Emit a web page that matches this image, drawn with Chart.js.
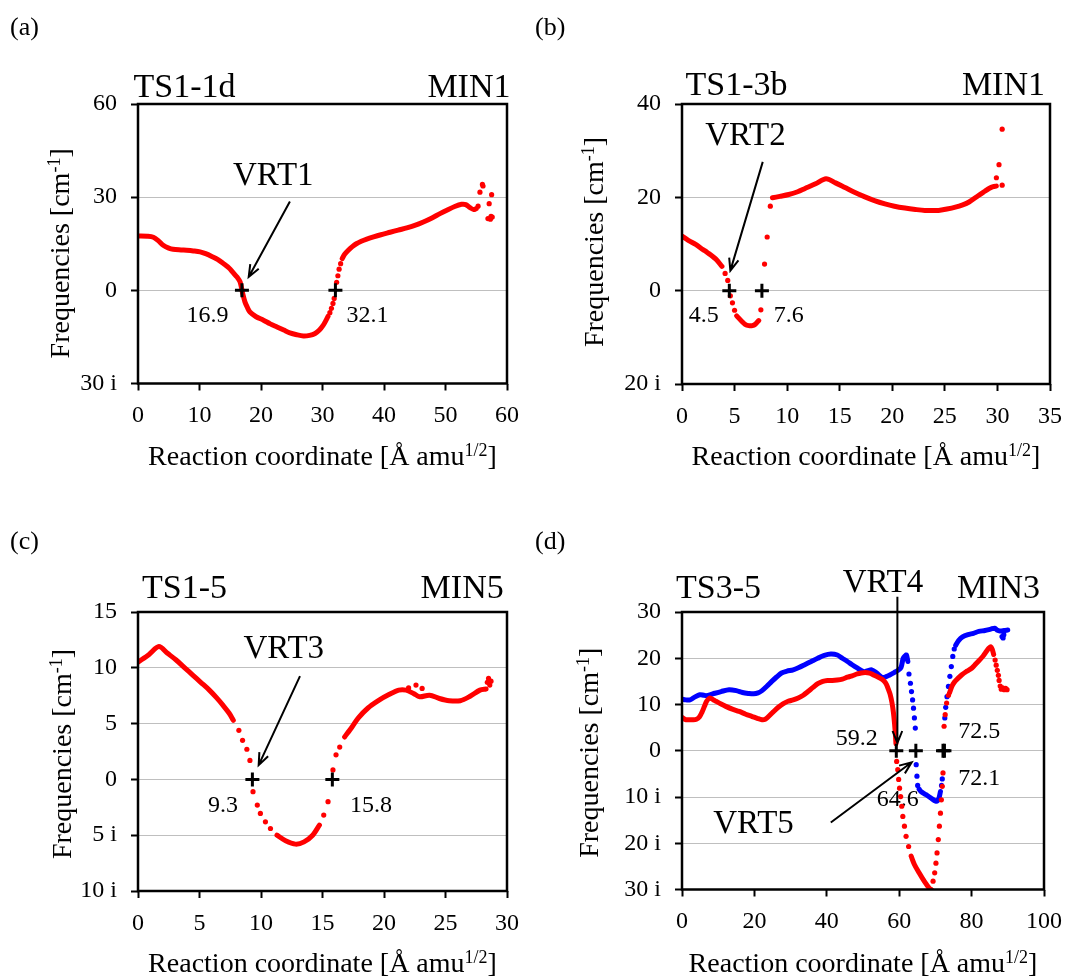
<!DOCTYPE html>
<html>
<head>
<meta charset="utf-8">
<script src="https://cdn.jsdelivr.net/npm/chart.js@4/dist/chart.umd.min.js"></script>
<style>
  html, body { margin: 0; padding: 0; background: #fff; }
  #page { position: relative; width: 1073px; height: 976px; overflow: hidden; }
  canvas { position: absolute; }
</style>
</head>
<body>
<div id="page">
  <canvas id="pa" width="536" height="488" style="left:0;top:0"></canvas>
  <canvas id="pb" width="543" height="488" style="left:530px;top:0"></canvas>
  <canvas id="pc" width="536" height="488" style="left:0;top:488px"></canvas>
  <canvas id="pd" width="543" height="488" style="left:530px;top:488px"></canvas>
</div>
<script>
'use strict';

var FONT = '"Liberation Serif", "Times New Roman", serif';
var RED = '#ff0000';
var BLUE = '#0000ff';

// ---- (a) TS1-1d -> MIN1 ----
var aZeroX = [16.9, 32.1];
var aLineX = [0, 1.5, 2.5, 3.3, 4.1, 5.0, 5.7, 7.0, 7.9, 9.0, 10.1, 11.0, 12.0, 13.0, 13.9, 14.8, 15.5, 16.1, 16.6, 17.0, 17.4, 17.8, 18.2, 19.2, 20.4, 21.5, 22.6, 23.7, 24.7, 25.8, 26.9, 27.9, 28.8, 29.5, 30.1, 30.5, 30.9,
  null,
  33.2, 33.6, 34.2, 34.8, 35.5, 36.3, 37.2, 38.3, 39.5, 41.0, 42.3, 43.7, 45.0, 46.4, 47.8, 49.1, 50.3, 51.5, 52.6, 53.3, 54.0, 54.6, 55.0];
var aLineY = [17.5, 17.4, 17.1, 16.0, 14.5, 13.6, 13.2, 13.0, 12.9, 12.7, 12.4, 11.8, 10.9, 9.9, 8.6, 7.2, 5.6, 4.3, 2.7, -0.8, -3.8, -5.6, -7.0, -8.5, -9.6, -10.8, -11.8, -12.8, -13.7, -14.3, -14.7, -14.5, -13.9, -12.8, -11.3, -9.9, -8.4,
  null,
  10.2, 11.6, 12.9, 14.0, 15.0, 15.8, 16.5, 17.2, 17.9, 18.7, 19.4, 20.1, 20.9, 22.0, 23.3, 24.7, 25.9, 27.0, 27.7, 27.6, 26.6, 26.0, 26.3];
var aDotX = [31.2, 31.45, 31.7, 31.9, 32.3, 32.5, 32.7, 32.95, 55.3, 55.6, 56.0, 56.1, 57.5, 57.1, 56.9, 57.3, 57.6, 57.4];
var aDotY = [-7.2, -5.8, -4.2, -2.6, 2.6, 4.7, 6.8, 8.6, 27.1, 31.6, 34.1, 33.6, 30.8, 27.9, 23.1, 22.9, 23.6, 23.8];

// ---- (b) TS1-3b -> MIN1 ----
var bZeroX = [4.5, 7.6];
var bLineX = [0, 0.6, 1.3, 2.0, 2.4, 3.2, 3.8,
  null,
  5.2, 5.7, 6.0, 6.35, 6.7, 6.97, 7.3,
  null,
  8.6, 9.3, 10.15, 11.0, 11.7, 12.7, 13.7, 14.6, 15.5, 16.4, 17.4, 18.3, 19.3, 20.2, 21.2, 22.2, 23.1, 24.4, 25.2, 26.0, 26.7, 27.3, 28.2, 28.8, 29.2, 29.6, 29.9];
var bLineY = [11.7, 10.8, 9.9, 8.8, 8.2, 6.8, 5.2,
  null,
  -5.4, -6.6, -7.2, -7.5, -7.5, -7.2, -6.4,
  null,
  19.9, 20.2, 20.6, 21.2, 21.9, 22.9, 24.0, 23.1, 22.1, 21.1, 20.1, 19.3, 18.6, 18.1, 17.7, 17.4, 17.2, 17.2, 17.5, 17.9, 18.4, 19.0, 20.4, 21.3, 21.9, 22.3, 22.4];
var bDotX = [4.1, 4.35, 4.6, 4.8, 5.0, 7.5, 7.85, 8.1, 8.4, 29.9, 30.15, 30.45, 30.45];
var bDotY = [3.7, 2.2, -1.1, -2.6, -4.2, -4.1, 5.7, 11.5, 18.1, 24.2, 27.0, 34.6, 22.6];

// ---- (c) TS1-5 -> MIN5 ----
var cZeroX = [9.3, 15.8];
var cLineX = [0, 0.9, 1.7, 2.4, 3.1, 3.8, 4.45, 5.1, 5.8, 6.4, 6.9, 7.4, 7.75,
  null,
  11.3, 12.0, 12.8, 13.5, 14.2, 14.75,
  null,
  16.8, 17.4, 17.9, 18.7, 19.6, 20.4, 21.2, 21.8, 22.4, 22.9, 23.7, 24.5, 25.3, 26.2, 27.0, 27.8, 28.3];
var cLineY = [10.5, 11.2, 11.9, 11.3, 10.7, 10.0, 9.35, 8.7, 8.0, 7.3, 6.65, 5.95, 5.3,
  null,
  -5.0, -5.5, -5.8, -5.6, -5.0, -4.1,
  null,
  3.8, 4.7, 5.5, 6.4, 7.1, 7.6, 8.0, 8.0, 7.7, 7.4, 7.55, 7.25, 7.05, 7.05, 7.45, 8.0, 8.1];
var cDotX = [8.2, 8.5, 8.85, 9.1, 9.35, 9.7, 9.95, 10.36, 10.77, 15.1, 15.45, 15.85, 16.1, 16.4, 22.0, 22.6, 23.1, 28.4, 28.5, 28.6, 28.7];
var cDotY = [4.4, 3.5, 2.7, 1.7, -1.1, -2.3, -3.05, -3.8, -4.4, -3.2, -2.0, 0.85, 2.2, 2.9, 8.2, 8.45, 8.15, 8.7, 9.05, 8.45, 8.8];

// ---- (d) TS3-5 -> MIN3 ----
var dZeroX = [59.2, 64.6, 72.1, 72.5];
var dRedLineX = [0, 0.8, 1.7, 2.9, 4.0, 4.8, 5.5, 6.2, 6.8, 7.6, 8.5, 9.4, 10.8, 12.1, 13.9, 15.8, 17.6, 19.4, 20.8, 22.1, 23.0, 23.9, 25.2, 26.6, 28.0, 29.3, 30.7, 32.1, 33.5, 34.8, 36.2, 37.5, 38.9, 40.2, 41.5, 42.9, 44.3, 45.7, 47.0, 48.4, 49.5, 50.6, 51.8, 52.9, 54.0, 55.2, 55.9, 56.5, 57.0, 57.5, 58.0, 58.4, 58.7, 58.95, 59.1,
  null,
  63.3, 64.2, 65.5, 66.9, 68.3, 68.9,
  null,
  73.9, 74.6, 75.3, 76.3, 77.4, 78.7, 80.1, 81.2, 82.3, 83.3, 84.1, 84.8, 85.3, 85.7, 86.1];
var dRedLineY = [7.2, 6.8, 6.7, 6.7, 6.8, 7.3, 8.3, 9.6, 10.7, 11.4, 11.1, 10.7, 10.1, 9.6, 9.0, 8.5, 7.9, 7.4, 7.0, 6.7, 6.8, 7.4, 8.4, 9.4, 10.2, 10.7, 11.0, 11.4, 12.0, 12.8, 13.7, 14.5, 15.0, 15.2, 15.2, 15.3, 15.5, 15.9, 16.2, 16.6, 16.8, 16.9, 16.8, 16.4, 16.0, 15.5, 15.0, 14.3, 13.3, 12.2, 10.4, 8.3, 6.0, 3.5, 1.5,
  null,
  -22.8, -24.6, -26.4, -28.2, -29.7, -30.0,
  null,
  12.5, 14.0, 14.9, 15.7, 16.5, 17.2, 17.9, 18.8, 19.7, 20.6, 21.5, 22.2, 22.5, 21.9, 20.8];
var dRedDotX = [59.3, 59.6, 59.85, 60.1, 60.4, 60.7, 61.0, 61.45, 61.9, 62.6, 69.35, 69.8, 70.15, 70.45, 70.8, 71.1, 71.4, 71.65, 71.9, 72.1, 72.4, 72.7, 73.1, 73.6, 86.5, 86.8, 87.1, 87.4, 87.6, 87.9, 88.2, 88.6, 89.0, 89.4, 89.8];
var dRedDotY = [-2.3, -4.1, -6.2, -8.1, -9.9, -12.0, -14.2, -16.3, -18.5, -20.7, -28.2, -26.4, -24.3, -22.1, -19.2, -16.3, -13.5, -10.6, -7.7, -4.8, 5.3, 7.8, 10.3, 12.0, 19.6, 18.5, 17.4, 16.3, 15.2, 14.0, 13.3, 13.6, 13.2, 13.5, 13.2];
var dBlueLineX = [0, 1.0, 2.2, 3.5, 4.9, 6.0, 6.7, 8.5, 10.8, 13.0, 15.0, 16.7, 18.3, 19.8, 21.0, 22.1, 23.5, 24.8, 26.2, 27.5, 29.0, 30.7, 32.3, 33.9, 35.7, 37.5, 39.3, 41.1, 42.9, 44.3, 45.7, 47.0, 48.4, 50.2, 51.3, 52.4, 53.8, 55.2, 56.3, 57.4, 58.6, 59.7, 60.5, 61.1, 61.6, 62.0, 62.4,
  null,
  65.5, 66.0, 67.4, 68.7, 70.1, 70.6, 71.0, 71.4,
  null,
  75.6, 76.4, 77.5, 79.0, 80.5, 82.0, 83.7, 85.3, 86.4, 87.0, 87.8, 89.0, 90.0];
var dBlueLineY = [11.2, 11.0, 11.0, 11.6, 12.1, 12.0, 11.9, 12.3, 12.8, 13.2, 13.0, 12.6, 12.4, 12.3, 12.5, 13.0, 14.0, 15.0, 16.0, 16.8, 17.2, 17.5, 18.0, 18.6, 19.3, 20.0, 20.6, 20.9, 20.7, 20.0, 19.3, 18.6, 17.9, 17.1, 17.3, 17.5, 16.8, 15.9, 16.0, 16.4, 16.9, 17.4, 18.0, 20.0, 20.5, 20.7, 19.3,
  null,
  -8.3, -8.8, -9.5, -10.2, -10.9, -10.8, -10.2, -8.8,
  null,
  22.8, 23.8, 24.6, 25.1, 25.4, 25.8, 26.0, 26.3, 26.5, 26.1, 25.9, 26.0, 26.1];
var dBlueDotX = [62.7, 63.1, 63.4, 63.7, 63.95, 64.2, 64.45, 64.7, 64.9, 65.1, 71.7, 71.9, 72.6, 72.85, 73.2, 73.6, 74.0, 74.4, 74.8, 75.2, 88.4, 88.9, 88.7];
var dBlueDotY = [16.6, 14.6, 12.8, 11.0, 9.2, 7.1, 4.9, -3.0, -5.5, -7.5, -7.5, -6.1, 7.1, 9.4, 11.7, 13.9, 16.1, 18.2, 20.4, 22.0, 24.7, 25.1, 24.4];

// text, arrows and frame, placed in data coordinates or relative to the plot area
var notes = {
  pa: { label: '(a)', lx: 10, ly: 35, left: 'TS1-1d', ldx: -4.4, ldy: -7.3, right: 'MIN1', rdx: 3.5,
        ytx: -68.6, yty: 9.6, xty: 81.5,
        texts: [['VRT1', 15.45, 33.8, 33], ['16.9', 7.9, -10.2, 24], ['32.1', 33.9, -10.2, 24]],
        arrows: [[24.7, 28.6, 18.0, 4.3]] },
  pb: { label: '(b)', lx: 5, ly: 35, left: 'TS1-3b', ldx: 3.5, ldy: -9.5, right: 'MIN1', rdx: -5,
        ytx: -79.5, yty: -2, xty: 81,
        texts: [['VRT2', 2.2, 31.2, 33], ['4.5', 0.64, -6.8, 24], ['7.6', 8.72, -6.8, 24]],
        arrows: [[7.68, 27.6, 4.6, 4.3]] },
  pc: { label: '(c)', lx: 10, ly: 61, left: 'TS1-5', ldx: 4, ldy: -13.7, right: 'MIN5', rdx: -3.3,
        ytx: -67, yty: 2.5, xty: 80.7,
        texts: [['VRT3', 8.58, 10.84, 33], ['9.3', 5.69, -2.9, 24], ['15.8', 17.24, -2.9, 24]],
        arrows: [[13.17, 9.26, 9.81, 1.28]] },
  pd: { label: '(d)', lx: 5, ly: 61, left: 'TS3-5', ldx: -6, ldy: -14, right: 'MIN3', rdx: -4,
        ytx: -84, yty: 2, xty: 82,
        texts: [['VRT4', 44.4, 34.4, 33], ['59.2', 42.5, 1.3, 24], ['64.6', 53.8, -12.0, 24],
                ['72.5', 76.3, 2.74, 24], ['72.1', 76.3, -7.3, 24], ['VRT5', 8.64, -17.8, 33]],
        arrows: [[59.5, 33.3, 59.5, 1.66], [41.1, -15.5, 63.45, -2.5]] }
};

function pts(xs, ys) {
  return xs.map(function (x, i) { return { x: x, y: ys[i] }; });
}

function richText(ctx, parts, x, y) {
  var w = 0;
  parts.forEach(function (p) { ctx.font = p[1] + 'px ' + FONT; w += ctx.measureText(p[0]).width; });
  var cx = x - w / 2;
  ctx.textAlign = 'left';
  ctx.textBaseline = 'alphabetic';
  parts.forEach(function (p) {
    ctx.font = p[1] + 'px ' + FONT;
    ctx.fillText(p[0], cx, y - p[2]);
    cx += ctx.measureText(p[0]).width;
  });
}

function arrow(ctx, x0, y0, x1, y1) {
  var a = Math.atan2(y1 - y0, x1 - x0), h = 13, s = 0.38;
  ctx.beginPath();
  ctx.moveTo(x0, y0);
  ctx.lineTo(x1, y1);
  ctx.moveTo(x1 - h * Math.cos(a - s), y1 - h * Math.sin(a - s));
  ctx.lineTo(x1, y1);
  ctx.lineTo(x1 - h * Math.cos(a + s), y1 - h * Math.sin(a + s));
  ctx.stroke();
}

var notesPlugin = {
  id: 'notes',
  beforeDatasetsDraw: function (chart) {
    var n = notes[chart.canvas.id], ctx = chart.ctx, ca = chart.chartArea;
    var xs = chart.scales.x, ys = chart.scales.y;
    ctx.save();
    ctx.fillStyle = '#000';
    ctx.textBaseline = 'alphabetic';
    ctx.textAlign = 'left';
    ctx.font = '26px ' + FONT;
    ctx.fillText(n.label, n.lx, n.ly);
    ctx.font = '34px ' + FONT;
    ctx.fillText(n.left, ca.left + n.ldx, ca.top + n.ldy);
    ctx.textAlign = 'right';
    ctx.fillText(n.right, ca.right + n.rdx, ca.top + n.ldy);
    ctx.textAlign = 'left';
    n.texts.forEach(function (t) {
      ctx.font = t[3] + 'px ' + FONT;
      ctx.fillText(t[0], xs.getPixelForValue(t[1]), ys.getPixelForValue(t[2]));
    });
    // axis titles
    richText(ctx, [['Reaction coordinate [\u00c5 amu', 28, 0], ['1/2', 18, 9], [']', 28, 0]],
      (ca.left + ca.right) / 2, ca.bottom + n.xty);
    ctx.translate(ca.left + n.ytx, (ca.top + ca.bottom) / 2 + n.yty);
    ctx.rotate(-Math.PI / 2);
    richText(ctx, [['Frequencies [cm', 28, 0], ['-1', 18, 9], [']', 28, 0]], 0, 0);
    ctx.restore();
  },
  afterDatasetsDraw: function (chart) {
    var n = notes[chart.canvas.id], ctx = chart.ctx, ca = chart.chartArea;
    var xs = chart.scales.x, ys = chart.scales.y;
    ctx.save();
    ctx.strokeStyle = '#000';
    ctx.lineWidth = 2;
    n.arrows.forEach(function (a) {
      arrow(ctx, xs.getPixelForValue(a[0]), ys.getPixelForValue(a[1]),
        xs.getPixelForValue(a[2]), ys.getPixelForValue(a[3]));
    });
    ctx.lineWidth = 2.5;
    ctx.strokeRect(ca.left, ca.top, ca.right - ca.left, ca.bottom - ca.top);
    ctx.restore();
  }
};

function fmtY(v) {
  return v < 0 ? (-v) + ' i' : String(v);
}

function panel(id, o) {
  var datasets = [{
    data: pts(o.zero, o.zero.map(function () { return 0; })),
    showLine: false, pointStyle: 'cross', pointRadius: 7,
    pointBorderWidth: 3, pointBorderColor: '#000', borderColor: '#000'
  }];
  o.series.forEach(function (s) {
    datasets.push({
      data: pts(s[0], s[1]), showLine: true, spanGaps: false,
      borderColor: s[4], borderWidth: 5, pointRadius: 0, tension: 0.3,
      borderCapStyle: 'round', borderJoinStyle: 'round'
    });
    datasets.push({
      data: pts(s[2], s[3]), showLine: false,
      pointRadius: 2.6, pointBorderWidth: 0, pointBackgroundColor: s[4], borderColor: s[4]
    });
  });

  new Chart(document.getElementById(id), {
    type: 'scatter',
    data: { datasets: datasets },
    plugins: [notesPlugin],
    options: {
      responsive: false,
      animation: false,
      events: [],
      devicePixelRatio: 1,
      layout: { padding: { left: 0, top: o.top, right: o.right, bottom: 0 } },
      plugins: { legend: { display: false }, tooltip: { enabled: false } },
      scales: {
        x: {
          type: 'linear', min: 0, max: o.xmax,
          ticks: { stepSize: o.xstep, color: '#000', font: { family: FONT, size: 24 }, padding: 11, maxRotation: 0, autoSkip: false },
          grid: { drawOnChartArea: false, tickLength: 7, tickColor: '#000', tickWidth: 2 },
          border: { display: false },
          afterFit: function (s) { s.height = o.xh; }
        },
        y: {
          type: 'linear', min: o.ymin, max: o.ymax,
          ticks: { stepSize: o.ystep, color: '#000', font: { family: FONT, size: 24 }, padding: 14, callback: fmtY },
          grid: { color: '#bfbfbf', lineWidth: 1, tickLength: 7, tickColor: '#000', tickWidth: 2 },
          border: { display: false },
          afterFit: function (s) { s.width = o.yw; }
        }
      }
    }
  });
}

panel('pa', { top: 104, right: 29, yw: 138, xh: 104.5, xmax: 60, xstep: 10, ymin: -30, ymax: 60, ystep: 30,
  zero: aZeroX, series: [[aLineX, aLineY, aDotX, aDotY, RED]] });
panel('pb', { top: 104, right: 23, yw: 152, xh: 104, xmax: 35, xstep: 5, ymin: -20, ymax: 40, ystep: 20,
  zero: bZeroX, series: [[bLineX, bLineY, bDotX, bDotY, RED]] });
panel('pc', { top: 124, right: 29, yw: 138, xh: 85, xmax: 30, xstep: 5, ymin: -10, ymax: 15, ystep: 5,
  zero: cZeroX, series: [[cLineX, cLineY, cDotX, cDotY, RED]] });
panel('pd', { top: 124, right: 23, yw: 152, xh: 86.5, xmax: 100, xstep: 20, ymin: -30, ymax: 30, ystep: 10,
  zero: dZeroX, series: [[dRedLineX, dRedLineY, dRedDotX, dRedDotY, RED], [dBlueLineX, dBlueLineY, dBlueDotX, dBlueDotY, BLUE]] });
</script>
</body>
</html>
